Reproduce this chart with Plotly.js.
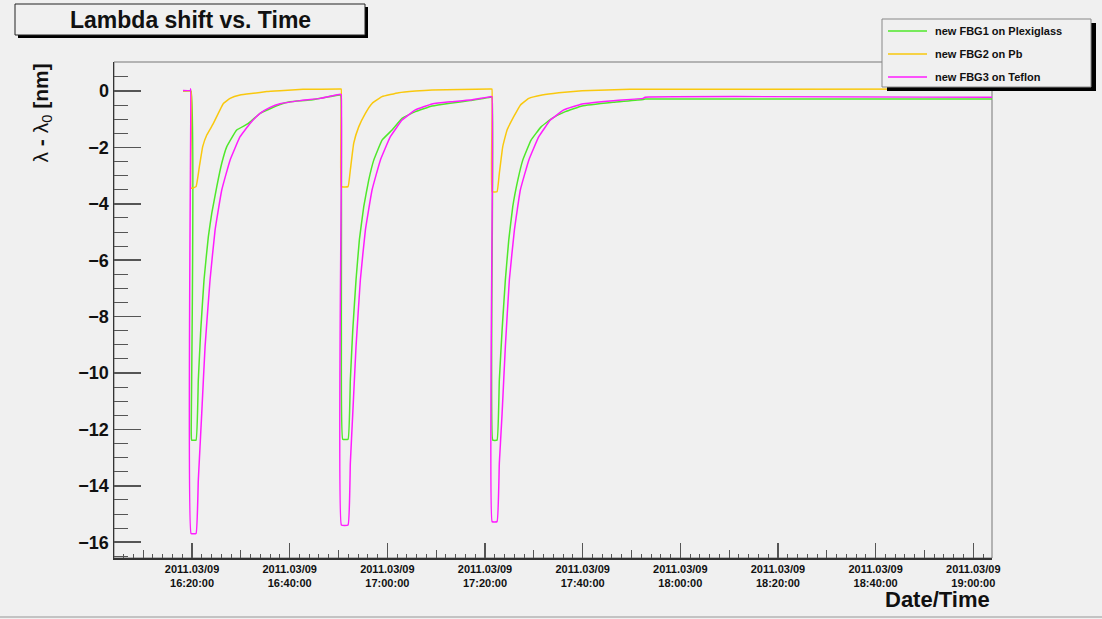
<!DOCTYPE html>
<html>
<head>
<meta charset="utf-8">
<script src="https://cdn.plot.ly/plotly-3.0.1.min.js"></script>
<style>
  html, body { margin: 0; padding: 0; background: #f0f0f0; }
  #chart { width: 1102px; height: 619px; }
</style>
</head>
<body>
<div id="chart"></div>
<script>
// Measurement day; all times below are on 2011-03-09
const day = '2011-03-09 ';

// new FBG1 on Plexiglass
const fbg1Time = ['16:18:09','16:19:46','16:19:50','16:19:55','16:20:49','16:21:17','16:21:47','16:22:27','16:23:20','16:24:02','16:25:04','16:26:05','16:27:07','16:29:09','16:31:32','16:33:56','16:38:01','16:40:04','16:44:10','16:50:19','16:50:30','16:50:35','16:50:52','16:51:57','16:52:25','16:52:55','16:53:35','16:54:16','16:55:10','16:56:11','16:57:13','16:58:55','17:00:58','17:03:01','17:05:44','17:09:09','17:12:50','17:16:56','17:21:02','17:21:27','17:21:35','17:22:28','17:22:56','17:23:30','17:24:10','17:24:52','17:25:41','17:26:43','17:27:44','17:29:26','17:31:29','17:33:44','17:36:27','17:39:53','17:46:14','17:52:22','17:52:47','19:03:51'];
const fbg1Shift = [0.0,0.0,-12.1,-12.38,-12.38,-10.25,-8.48,-6.70,-5.17,-4.34,-3.39,-2.56,-1.97,-1.38,-1.15,-0.79,-0.48,-0.38,-0.32,-0.14,-0.20,-8.6,-12.35,-12.35,-10.25,-8.48,-6.70,-5.28,-4.10,-3.16,-2.45,-1.74,-1.38,-0.97,-0.73,-0.53,-0.43,-0.34,-0.22,-0.22,-12.38,-12.38,-10.25,-8.48,-6.70,-5.28,-4.10,-3.16,-2.45,-1.74,-1.27,-0.97,-0.73,-0.53,-0.40,-0.30,-0.28,-0.28];

// new FBG2 on Pb
const fbg2Time = ['16:18:09','16:19:46','16:19:48','16:20:49','16:21:30','16:22:11','16:23:01','16:24:22','16:26:25','16:27:47','16:29:50','16:32:33','16:35:18','16:38:01','16:42:44','16:50:19','16:50:33','16:50:35','16:51:57','16:52:25','16:53:07','16:54:08','16:55:30','16:56:52','16:58:55','17:02:20','17:05:44','17:09:09','17:21:02','17:21:25','17:21:27','17:22:28','17:22:56','17:23:38','17:24:31','17:25:53','17:27:14','17:28:58','17:31:41','17:35:06','17:39:53','17:49:43','19:03:51'];
const fbg2Shift = [0.0,0.0,-3.45,-3.39,-2.68,-1.97,-1.56,-1.15,-0.44,-0.26,-0.14,-0.08,-0.02,0.01,0.06,0.07,0.07,-3.39,-3.39,-2.80,-1.85,-1.27,-0.79,-0.44,-0.20,-0.06,0.0,0.04,0.07,0.07,-3.57,-3.57,-2.92,-1.97,-1.38,-0.91,-0.50,-0.26,-0.14,-0.06,0.01,0.06,0.07];

// new FBG3 on Teflon
const fbg3Time = ['16:18:09','16:19:40','16:19:45','16:19:48','16:20:49','16:21:17','16:21:59','16:22:40','16:23:41','16:24:43','16:26:05','16:27:47','16:29:50','16:31:53','16:33:56','16:35:59','16:38:01','16:42:07','16:46:13','16:50:19','16:50:33','16:50:35','16:51:57','16:52:25','16:52:55','16:53:35','16:54:28','16:55:30','16:56:52','16:58:34','17:00:37','17:03:01','17:05:44','17:09:09','17:12:50','17:16:56','17:21:02','17:21:25','17:21:27','17:22:28','17:22:56','17:23:30','17:24:10','17:24:59','17:26:01','17:27:14','17:28:58','17:31:01','17:33:23','17:36:08','17:39:53','17:46:14','17:52:22','17:52:47','19:03:51'];
const fbg3Shift = [0.02,0.02,0.08,-15.69,-15.69,-13.8,-11.43,-9.07,-6.70,-4.93,-3.51,-2.45,-1.62,-1.15,-0.79,-0.58,-0.45,-0.34,-0.26,-0.11,-0.12,-15.39,-15.39,-13.2,-11.43,-9.07,-6.70,-4.93,-3.51,-2.45,-1.62,-1.03,-0.67,-0.46,-0.38,-0.32,-0.20,-0.20,-15.27,-15.27,-13.2,-11.43,-9.07,-6.70,-4.93,-3.51,-2.45,-1.62,-1.03,-0.67,-0.46,-0.34,-0.26,-0.22,-0.22];

const seriesNames = ['new FBG1 on Plexiglass', 'new FBG2 on Pb', 'new FBG3 on Teflon'];
const seriesColors = ['#4fe82a', '#f9c80e', '#ff1cff'];

// Frame geometry in pixels (plot area)
const W = 1102, H = 619, L = 114, R = 992, T = 62, B = 558;
const px = x => (x - L) / (R - L);
const py = y => (B - y) / (B - T);

const stamp = arr => arr.map(t => day + t);

const traces = [
  { x: stamp(fbg1Time), y: fbg1Shift, name: seriesNames[0] },
  { x: stamp(fbg2Time), y: fbg2Shift, name: seriesNames[1] },
  { x: stamp(fbg3Time), y: fbg3Shift, name: seriesNames[2] }
].map((t, i) => Object.assign(t, {
  type: 'scatter', mode: 'lines', hoverinfo: 'skip',
  line: { color: seriesColors[i], width: 1.5, shape: 'spline', smoothing: 0.3 }
}));

// empty trace that carries the 10-minute tick axis
traces.push({ x: [], y: [], xaxis: 'x2', yaxis: 'y', type: 'scatter', mode: 'lines', showlegend: false, hoverinfo: 'skip' });

const xRange = [day + '16:04:01', day + '19:03:50'];
const tickCol = '#555';
const boldFont = 'Liberation Sans, Arial, Helvetica, sans-serif';

// Legend box, drawn by hand
const legBox = { x0: 882, y0: 19, x1: 1091, y1: 87 };
const legRows = [31, 54, 77];

const shapes = [
  // plot frame
  { type: 'rect', xref: 'paper', yref: 'paper', x0: 0, y0: 0, x1: 1, y1: 1, line: { color: '#777', width: 1 }, layer: 'below' },
  // canvas bottom edge
  { type: 'line', xref: 'paper', yref: 'paper', x0: px(0), x1: px(W), y0: py(617), y1: py(617), line: { color: '#b5b5b5', width: 1.5 } },
  // title box with shadow
  { type: 'rect', xref: 'paper', yref: 'paper', x0: px(18), x1: px(368), y0: py(38), y1: py(7), fillcolor: '#000', line: { width: 0 } },
  { type: 'rect', xref: 'paper', yref: 'paper', x0: px(15), x1: px(365), y0: py(35), y1: py(4), fillcolor: '#f0f0f0', line: { color: '#222', width: 1 } },
  // legend box with shadow
  { type: 'rect', xref: 'paper', yref: 'paper', x0: px(legBox.x0 + 5), x1: px(legBox.x1 + 5), y0: py(legBox.y1 + 4), y1: py(legBox.y0 + 4), fillcolor: '#000', line: { width: 0 } },
  { type: 'rect', xref: 'paper', yref: 'paper', x0: px(legBox.x0), x1: px(legBox.x1), y0: py(legBox.y1), y1: py(legBox.y0), fillcolor: '#f0f0f0', line: { color: '#888', width: 1 } }
];
legRows.forEach((r, i) => {
  shapes.push({ type: 'line', xref: 'paper', yref: 'paper', x0: px(888), x1: px(927), y0: py(r), y1: py(r), line: { color: seriesColors[i], width: 1.5 } });
});

const annotations = [
  { text: 'Lambda shift vs. Time', xref: 'paper', yref: 'paper', x: px(190), y: py(20), xanchor: 'center', yanchor: 'middle', showarrow: false,
    font: { family: boldFont, size: 23, weight: 'bold', color: '#111' } },
  { text: '\u03bb<b> - </b>\u03bb<sub>0</sub><b> [nm]</b>', xref: 'paper', yref: 'paper', x: px(41), y: py(62), xanchor: 'center', yanchor: 'top', textangle: -90, showarrow: false,
    font: { family: boldFont, size: 21, color: '#111' } },
  { text: 'Date/Time', xref: 'paper', yref: 'paper', x: px(992), y: py(599), xanchor: 'right', yanchor: 'middle', showarrow: false,
    font: { family: boldFont, size: 22, weight: 'bold', color: '#111' } }
];
legRows.forEach((r, i) => {
  annotations.push({ text: seriesNames[i], xref: 'paper', yref: 'paper', x: px(933), y: py(r), xanchor: 'left', yanchor: 'middle', showarrow: false,
    font: { family: boldFont, size: 11, weight: 'bold', color: '#111' } });
});

const layout = {
  width: W, height: H,
  paper_bgcolor: '#f0f0f0', plot_bgcolor: '#f0f0f0',
  margin: { l: L, r: W - R, t: T, b: H - B, pad: 0 },
  showlegend: false,
  font: { family: boldFont, color: '#111' },
  xaxis: {
    type: 'date', range: xRange,
    tick0: day + '16:00:00', dtick: 20 * 60 * 1000,
    tickformat: '%Y.%m/%d<br>%H:%M:%S',
    ticks: 'inside', ticklen: 15, tickwidth: 1.5, tickcolor: tickCol,
    tickfont: { family: boldFont, size: 11, weight: 'bold', color: '#111' },
    showgrid: false, zeroline: false, showline: true, linecolor: '#333', linewidth: 1.5,
    minor: { tick0: day + '16:00:00', dtick: 2 * 60 * 1000, ticks: 'inside', ticklen: 4, tickwidth: 1, tickcolor: tickCol, showgrid: false }
  },
  xaxis2: {
    type: 'date', range: xRange, overlaying: 'x', anchor: 'y', side: 'bottom',
    tick0: day + '16:10:00', dtick: 20 * 60 * 1000,
    ticks: 'inside', ticklen: 8, tickwidth: 1, tickcolor: tickCol,
    showticklabels: false, showgrid: false, zeroline: false, showline: false
  },
  yaxis: {
    range: [-16.56, 1.03], tick0: 0, dtick: 2,
    ticks: 'inside', ticklen: 27, tickwidth: 1.5, tickcolor: tickCol,
    tickfont: { family: boldFont, size: 18, weight: 'bold', color: '#111' },
    showgrid: false, zeroline: false, showline: true, linecolor: '#333', linewidth: 1.5,
    minor: { tick0: 0, dtick: 0.5, ticks: 'inside', ticklen: 14, tickwidth: 1, tickcolor: tickCol, showgrid: false }
  },
  shapes: shapes,
  annotations: annotations
};

Plotly.newPlot('chart', traces, layout, { staticPlot: true, displayModeBar: false });
</script>
</body>
</html>
